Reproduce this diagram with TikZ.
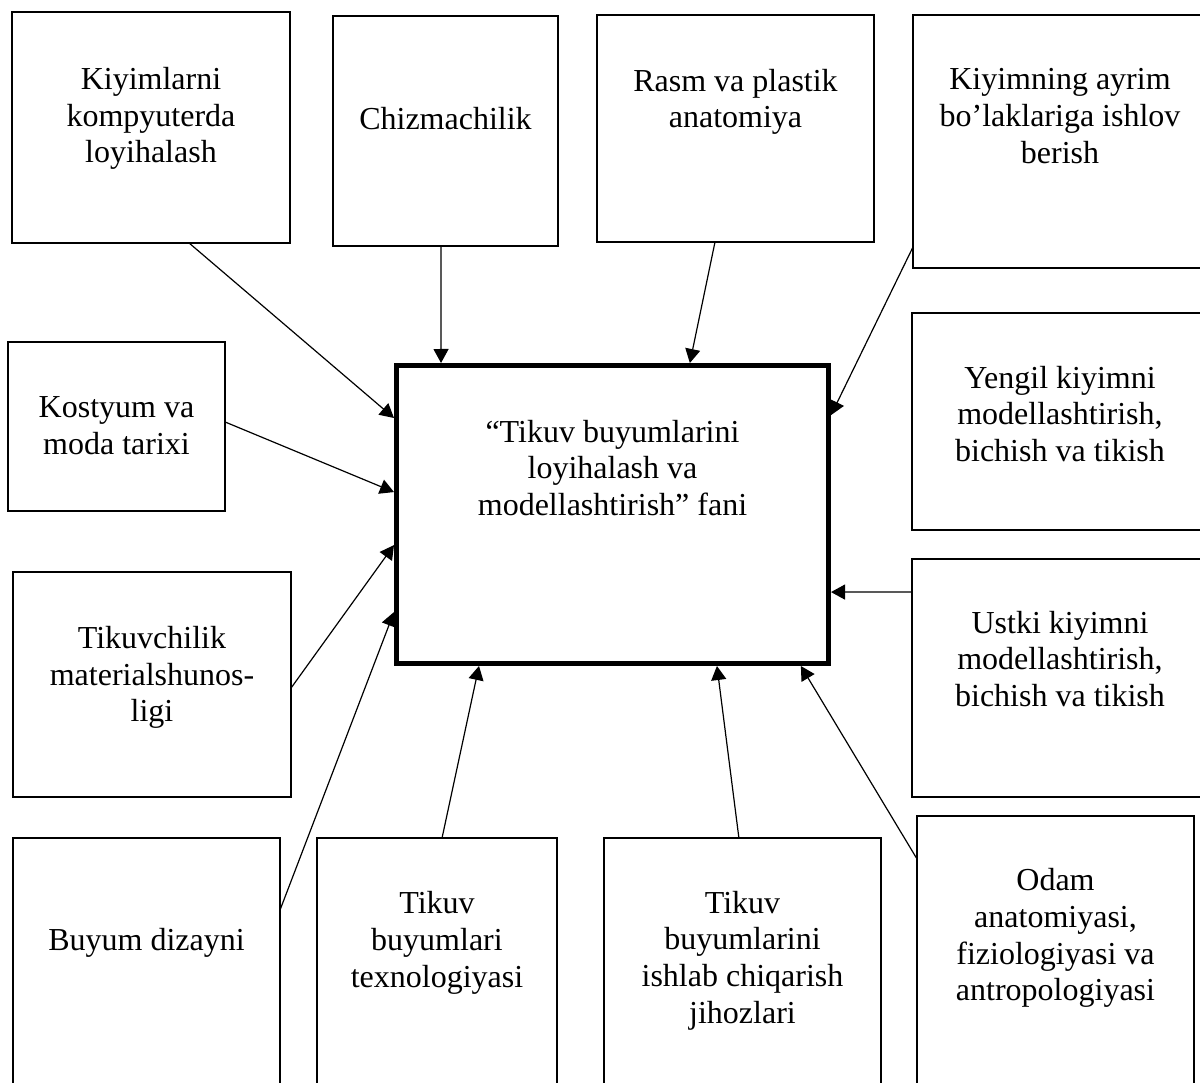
\documentclass[tikz,border=0pt]{standalone}
\usepackage{fontspec}
\setmainfont{Liberation Serif}
\usetikzlibrary{arrows.meta,calc}
\tikzset{
  box/.style={draw=black, line width=1.1pt, rectangle, inner sep=0pt, outer sep=0pt},
  mainbox/.style={draw=black, line width=4.7pt, rectangle, inner sep=0pt, outer sep=2.35pt},
  lbl/.style={align=center, inner sep=0pt, font=\fontsize{32}{36.7}\selectfont},
  conn/.style={line width=1.2pt, -{Triangle[length=14pt,width=15pt]}}
}
\begin{document}
\begin{tikzpicture}[x=1pt,y=-1pt]
\useasboundingbox (0,0) rectangle (1200,1083);
\fill[white] (0,0) rectangle (1200,1083);
\clip (0,0) rectangle (1200,1083);

% boxes
\node[box, minimum width=278pt, minimum height=231pt] (b1) at (151,127.5) {};
\node[box, minimum width=225pt, minimum height=230pt] (b2) at (445.5,131) {};
\node[box, minimum width=277pt, minimum height=227pt] (b3) at (735.5,128.5) {};
\node[box, minimum width=294pt, minimum height=253pt] (b4) at (1060,141.5) {};
\node[box, minimum width=217pt, minimum height=169pt] (b5) at (116.5,426.5) {};
\node[mainbox, minimum width=432.3pt, minimum height=298.3pt] (c) at (612.5,514.5) {};
\node[box, minimum width=295pt, minimum height=217pt] (b6) at (1059.5,421.5) {};
\node[box, minimum width=278pt, minimum height=225pt] (b7) at (152,684.5) {};
\node[box, minimum width=295pt, minimum height=238pt] (b8) at (1059.5,678) {};
\node[box, minimum width=267pt, minimum height=272pt] (b9) at (146.5,974) {};
\node[box, minimum width=240pt, minimum height=272pt] (b10) at (437,974) {};
\node[box, minimum width=277pt, minimum height=272pt] (b11) at (742.5,974) {};
\node[box, minimum width=277pt, minimum height=294pt] (b12) at (1055.5,963) {};

% texts
\node[lbl] (t1) at (151,118.5) {Kiyimlarni\\kompyuterda\\loyihalash};
\node[lbl, anchor=base] (t2) at (445.5,130) {Chizmachilik};
\node[lbl] (t3) at (735.5,102) {Rasm va plastik\\anatomiya};
\node[lbl] (t4) at (1060,116) {Kiyimning ayrim\\bo’laklariga ishlov\\berish};
\node[lbl] (t5) at (116.5,425.5) {Kostyum va\\moda tarixi};
\node[lbl] (tc) at (612.5,468) {“Tikuv buyumlarini\\loyihalash va\\modellashtirish” fani};
\node[lbl] (t6) at (1060,414) {Yengil kiyimni\\modellashtirish,\\bichish va tikish};
\node[lbl] (t7) at (152,677.5) {Tikuvchilik\\materialshunos-\\ligi};
\node[lbl] (t8) at (1060,659) {Ustki kiyimni\\modellashtirish,\\bichish va tikish};
\node[lbl, anchor=base] (t9) at (146.5,950) {Buyum dizayni};
\node[lbl] (t10) at (437,943) {Tikuv\\buyumlari\\texnologiyasi};
\node[lbl] (t11) at (742.5,960.5) {Tikuv\\buyumlarini\\ishlab chiqarish\\jihozlari};
\node[lbl] (t12) at (1055.5,938) {Odam\\anatomiyasi,\\fiziologiyasi va\\antropologiyasi};

% connectors
\draw[conn] ($(b1.south west)!0.637!(b1.south east)$) -- ($(c.north west)!0.1815!(c.south west)$);
\draw[conn] ($(b2.south west)!0.48!(b2.south east)$) -- ($(c.north west)!0.1076!(c.north east)$);
\draw[conn] ($(b3.south west)!0.426!(b3.south east)$) -- ($(c.north west)!0.677!(c.north east)$);
\draw[conn] ($(b4.north west)!0.917!(b4.south west)$) -- ($(c.north east)!0.172!(c.south east)$);
\draw[conn] ($(b5.north east)!0.473!(b5.south east)$) -- ($(c.north west)!0.426!(c.south west)$);
\draw[conn] ($(b7.north east)!0.516!(b7.south east)$) -- ($(c.north west)!0.601!(c.south west)$);
\draw[conn] ($(b9.north east)!0.265!(b9.south east)$) -- ($(c.north west)!0.822!(c.south west)$);
\draw[conn] ($(b10.north west)!0.521!(b10.north east)$) -- ($(c.south west)!0.1945!(c.south east)$);
\draw[conn] ($(b11.north west)!0.487!(b11.north east)$) -- ($(c.south west)!0.739!(c.south east)$);
\draw[conn] ($(b12.north west)!0.146!(b12.south west)$) -- ($(c.south west)!0.931!(c.south east)$);
\draw[conn] ($(b8.north west)!0.139!(b8.south west)$) -- ($(c.north east)!0.756!(c.south east)$);
\end{tikzpicture}
\end{document}
